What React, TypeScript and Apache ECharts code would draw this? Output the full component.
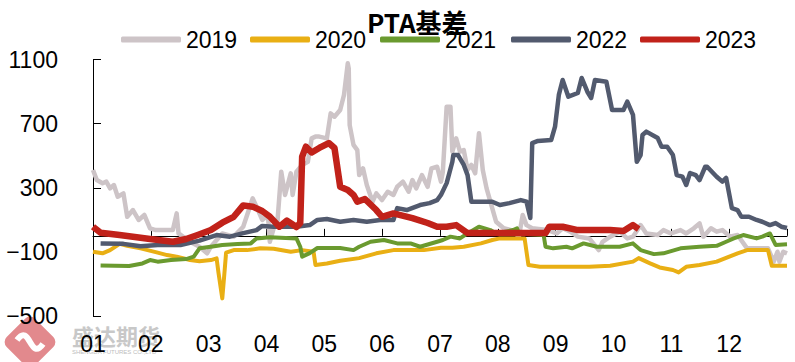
import React, { useEffect, useRef } from "react";
import * as echarts from "echarts";

// x = day of year (0..365), y = basis value
const SERIES_NAMES = ["2019", "2020", "2021", "2022", "2023"];
const MONTH_LABELS = ["01", "02", "03", "04", "05", "06", "07", "08", "09", "10", "11", "12"];
const Y_TICKS = [-500, -100, 300, 700, 1100];

const data2019: [number, number][] = [
  [0, 411], [2, 348], [5, 328], [7, 338], [9, 296], [11, 317], [13, 244], [16, 265], [18, 119], [21, 161],
  [24, 99], [27, 130], [30, 47], [33, 36], [42, 36], [44, 140], [45, 15], [51, -37], [56, -68], [60, -109],
  [62, -68], [68, 15], [74, -5], [79, 57], [84, 234], [86, 182], [89, 99], [92, 130], [93, -37], [95, 47],
  [97, 88], [99, 400], [101, 255], [104, 390], [105, 255], [107, 400], [110, 442], [113, 462], [115, 608],
  [117, 619], [119, 619], [123, 608], [125, 764], [127, 743], [130, 785], [132, 879], [134, 1076], [134.5, 1045],
  [135, 691], [137, 567], [139, 535], [140, 379], [142, 421], [144, 317], [147, 213], [149, 265], [152, 223],
  [155, 275], [158, 255], [160, 306], [163, 338], [166, 275], [168, 348], [170, 296], [173, 379], [176, 306],
  [178, 421], [181, 431], [183, 338], [184, 400], [186, 806], [188, 806], [189, 525], [191, 608], [193, 525],
  [195, 535], [197, 411], [199, 442], [201, 390], [203, 640], [205, 411], [207, 296], [210, 172], [212, 88],
  [216, 47], [220, 36], [224, -5], [226, 130], [228, 67], [231, 47], [239, 36], [244, 15], [247, 47], [251, 26],
  [255, -5], [261, -16], [266, -89], [268, -37], [272, -5], [277, 26], [281, -16], [284, -5], [288, 67],
  [291, 15], [297, 5], [300, 36], [304, 15], [309, 36], [312, 15], [316, 47], [319, 78], [321, -5], [325, 47],
  [328, 26], [331, 36], [335, -5], [339, 5], [344, -78], [355, -78], [358, -161], [360, -99], [361, -161],
  [363, -99], [365, -109],
];

const data2020: [number, number][] = [
  [0, -99], [5, -109], [9, -89], [14, -50], [18, -62], [25, -78], [34, -105], [39, -120], [44, -130], [51, -151],
  [56, -158], [62, -151], [65, -140], [66, -230], [68, -390], [69, -250], [70, -105], [74, -89], [81, -89],
  [88, -78], [95, -80], [104, -99], [110, -89], [116, -99], [117, -182], [123, -172], [130, -155], [140, -139],
  [149, -109], [158, -89], [174, -89], [183, -74], [189, -74], [195, -68], [204, -47], [210, -26], [214, -16],
  [227, -16], [229, -182], [235, -193], [261, -193], [272, -187], [284, -161], [287, -139], [293, -172],
  [298, -197], [305, -213], [308, -228], [312, -193], [319, -182], [328, -161], [333, -137], [339, -109],
  [344, -89], [355, -89], [357, -187], [365, -187],
];

const data2021: [number, number][] = [
  [4, -185], [19, -188], [26, -172], [30, -151], [34, -161], [41, -151], [49, -145], [53, -130], [56, -78],
  [62, -68], [68, -57], [76, -51], [83, -47], [86, -16], [93, -9], [107, -16], [109, -68], [110, -130],
  [114, -108], [118, -76], [130, -76], [137, -89], [140, -68], [146, -37], [153, -26], [160, -47], [167, -47],
  [172, -68], [181, -37], [184, -26], [188, -5], [193, -16], [197, 15], [203, 57], [206, 47], [209, 36],
  [212, 15], [221, 36], [223, 47], [224, 15], [237, 5], [238, -68], [242, -78], [249, -68], [252, -78],
  [258, -47], [265, -68], [277, -68], [284, -47], [288, -89], [295, -114], [300, -109], [309, -78], [319, -68],
  [328, -62], [333, -37], [337, -16], [342, 5], [349, -16], [352, -5], [356, 15], [359, -57], [365, -53],
];

const data2022: [number, number][] = [
  [4, -47], [16, -50], [25, -65], [34, -57], [46, -57], [56, -30], [65, 5], [72, -5], [79, 17], [86, 36],
  [89, 62], [95, 57], [107, 57], [114, 67], [118, 99], [123, 105], [130, 88], [137, 99], [144, 88], [151, 99],
  [158, 99], [160, 173], [165, 161], [172, 192], [177, 204], [181, 223], [183, 255], [186, 329], [189, 462],
  [189.5, 504], [192, 504], [195, 442], [197, 379], [199, 213], [210, 213], [214, 192], [219, 204], [225, 223],
  [228, 213], [230, 111], [231, 579], [234, 592], [241, 598], [243, 681], [245, 879], [247, 972], [250, 868],
  [255, 891], [257, 985], [260, 899], [262, 860], [264, 972], [270, 961], [273, 785], [279, 785], [281, 837],
  [284, 754], [286, 462], [288, 504], [289, 629], [291, 650], [297, 610], [299, 556], [302, 556], [305, 504],
  [307, 379], [310, 369], [312, 317], [314, 392], [317, 379], [319, 348], [322, 431], [323, 431], [328, 369],
  [331, 338], [333, 361], [336, 173], [339, 161], [341, 119], [345, 119], [349, 99], [352, 88], [356, 67],
  [359, 80], [362, 57], [365, 49],
];

const data2023: [number, number][] = [
  [0, 57], [4, 19], [14, 5], [30, -20], [42, -37], [49, -20], [55, 5], [62, 36], [68, 82], [74, 119], [79, 190],
  [84, 182], [89, 155], [93, 120], [98, 57], [102, 95], [107, 55], [109, 80], [110, 494], [112, 556], [115, 520],
  [119, 548], [124, 579], [127, 548], [130, 306], [134, 286], [137, 255], [139, 213], [143, 230], [149, 161],
  [152, 119], [158, 140], [168, 111], [176, 80], [181, 57], [186, 57], [191, 67], [197, 17], [209, 17],
  [230, 17], [238, 17], [240, 57], [247, 57], [255, 36], [272, 36], [279, 30], [284, 67], [287, 42],
];

const SERIES_DATA = [data2019, data2020, data2021, data2022, data2023];
const COLORS = ["#CDC4C7", "#E9AF14", "#6A9A2F", "#525A6E", "#C1221A"];
const WIDTHS = [4.5, 4, 4, 4.5, 6.5];
const LEGEND_LEFT = [121, 250, 380, 511, 640];

const FONT = "Liberation Sans";

export default function App() {
  const ref = useRef<HTMLDivElement>(null);
  useEffect(() => {
    if (!ref.current) return;
    const chart = echarts.init(ref.current, null, { renderer: "svg" });
    const toMonth = (d: number) => (d * 12) / 365;
    const fmtY = (v: number) => (v < 0 ? "\u2212" + Math.abs(v) : String(v));
    chart.setOption({
      animation: false,
      backgroundColor: "#fff",
      title: {
        text: "PTA基差",
        left: 367,
        top: 8,
        padding: 0,
        textStyle: { fontSize: 26, fontWeight: "bold", fontFamily: "Noto Sans CJK SC", color: "#000" },
      },
      legend: SERIES_NAMES.map((n, i) => ({
        data: [n],
        left: LEGEND_LEFT[i],
        top: 28,
        padding: 0,
        itemWidth: 60,
        itemHeight: 6,
        icon: "roundRect",
        textStyle: { fontSize: 23, fontFamily: FONT, color: "#000" },
      })),
      grid: { left: 93, right: 8, top: 59.5, bottom: 46, containLabel: false, outerBoundsMode: "none" },
      xAxis: [
        {
          type: "value",
          min: 0,
          max: 12,
          interval: 1,
          axisLine: { show: true, onZero: true, lineStyle: { color: "#000", width: 1 } },
          axisTick: { show: true, inside: true, length: 7, lineStyle: { color: "#000" } },
          axisLabel: { show: false },
          splitLine: { show: false },
        },
        {
          type: "value",
          min: 0,
          max: 12,
          interval: 1,
          position: "bottom",
          axisLine: { show: false, onZero: false },
          axisTick: { show: false },
          axisLabel: {
            show: true,
            margin: 16,
            fontSize: 23,
            fontFamily: FONT,
            color: "#000",
            formatter: (v: number) => (v < 12 ? MONTH_LABELS[Math.round(v)] : ""),
          },
          splitLine: { show: false },
        },
      ],
      yAxis: {
        type: "value",
        min: -500,
        max: 1100,
        axisLine: { show: true, onZero: false, lineStyle: { color: "#000", width: 1 } },
        axisTick: { show: true, inside: true, length: 8, customValues: Y_TICKS, lineStyle: { color: "#000" } },
        axisLabel: {
          show: true,
          margin: 35,
          fontSize: 23,
          fontFamily: FONT,
          color: "#000",
          customValues: Y_TICKS,
          formatter: fmtY,
        },
        splitLine: { show: false },
      },
      graphic: [
        {
          type: "rect",
          x: 30,
          y: 342,
          rotation: Math.PI / 4,
          shape: { x: -20, y: -20, width: 40, height: 40, r: 7 },
          style: { fill: "#E2898D" },
          z: -10,
        },
        {
          type: "bezierCurve",
          shape: { x1: 17, y1: 340, cpx1: 30, cpy1: 322, cpx2: 30, cpy2: 362, x2: 43, y2: 344 },
          style: { stroke: "#fff", lineWidth: 6, fill: null },
          z: -9,
        },
        {
          type: "text",
          x: 72,
          y: 335,
          style: {
            text: "盛达期货",
            fontSize: 22,
            fontWeight: "bold",
            fontFamily: "Noto Sans CJK SC",
            fill: "#C8C8C8",
            verticalAlign: "middle",
          },
          z: -10,
        },
        {
          type: "text",
          x: 72,
          y: 352,
          style: {
            text: "SHENGDA FUTURES CO.,LTD",
            fontSize: 6,
            fontFamily: FONT,
            fill: "#BDBDBD",
            verticalAlign: "middle",
          },
          z: -10,
        },
      ],
      series: SERIES_NAMES.map((n, i) => ({
        name: n,
        type: "line",
        xAxisIndex: 0,
        data: SERIES_DATA[i].map(([d, v]) => [toMonth(d), v]),
        showSymbol: false,
        symbol: "none",
        lineStyle: { color: COLORS[i], width: WIDTHS[i], join: "round" },
        itemStyle: { color: COLORS[i] },
        z: 2 + i,
      })),
    });
    return () => chart.dispose();
  }, []);
  return <div ref={ref} style={{ width: 795, height: 362, position: "absolute", left: 0, top: 0 }} />;
}
